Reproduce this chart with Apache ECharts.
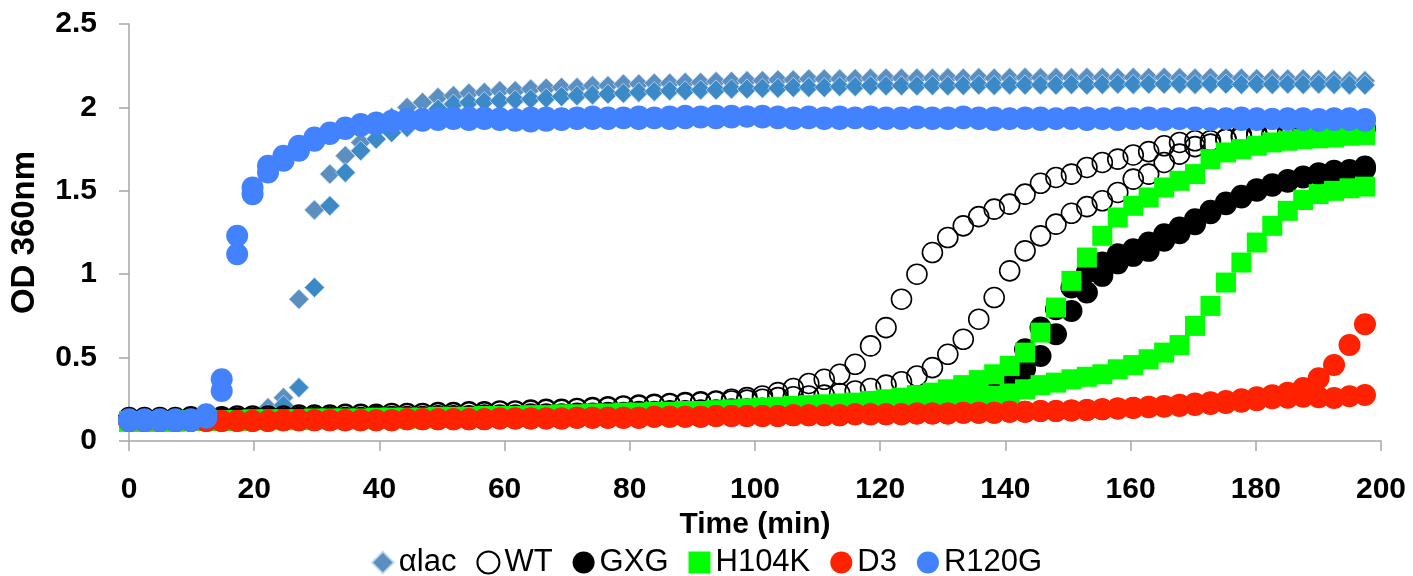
<!DOCTYPE html>
<html>
<head>
<meta charset="utf-8">
<script src="https://cdn.jsdelivr.net/npm/echarts@6/dist/echarts.min.js"></script>
<style>
  html, body { margin: 0; padding: 0; background: #fff; }
  #chart { width: 1413px; height: 576px; }
</style>
</head>
<body>
<div id="chart"></div>
<script>
// sampling times (min)
const time = [
  0, 2.47, 4.94, 7.40, 9.87, 12.34, 14.81, 17.28, 19.74, 22.21,
  24.68, 27.15, 29.62, 32.08, 34.55, 37.02, 39.49, 41.96, 44.42, 46.89,
  49.36, 51.83, 54.30, 56.76, 59.23, 61.70, 64.17, 66.64, 69.10, 71.57,
  74.04, 76.51, 78.98, 81.44, 83.91, 86.38, 88.85, 91.32, 93.78, 96.25,
  98.72, 101.19, 103.66, 106.12, 108.59, 111.06, 113.53, 116.00, 118.46, 120.93,
  123.40, 125.87, 128.34, 130.80, 133.27, 135.74, 138.21, 140.68, 143.14, 145.61,
  148.08, 150.55, 153.02, 155.48, 157.95, 160.42, 162.89, 165.36, 167.82, 170.29,
  172.76, 175.23, 177.70, 180.16, 182.63, 185.10, 187.57, 190.04, 192.50, 194.97,
  197.44
];

const alacA = [
  0.13,0.13,0.13,0.13,0.13,0.13,0.135,0.14,0.15,0.20,
  0.26,0.85,1.385,1.60,1.71,1.79,1.86,1.94,2.00,2.03,
  2.06,2.07,2.085,2.09,2.10,2.10,2.11,2.115,2.12,2.12,
  2.13,2.13,2.14,2.14,2.145,2.145,2.15,2.15,2.155,2.155,
  2.16,2.16,2.165,2.165,2.17,2.17,2.17,2.172,2.175,2.175,
  2.175,2.175,2.175,2.178,2.175,2.178,2.175,2.178,2.18,2.178,
  2.18,2.178,2.18,2.18,2.178,2.18,2.178,2.18,2.178,2.175,
  2.178,2.175,2.175,2.172,2.172,2.17,2.17,2.168,2.165,2.16,
  2.16
];
const alacB = [
  0.125,0.125,0.125,0.125,0.125,0.125,0.13,0.135,0.14,0.16,
  0.215,0.32,0.92,1.41,1.61,1.74,1.81,1.85,1.88,1.94,
  1.99,2.02,2.03,2.035,2.04,2.045,2.05,2.055,2.065,2.07,
  2.075,2.08,2.085,2.09,2.095,2.10,2.10,2.105,2.105,2.11,
  2.11,2.115,2.115,2.12,2.12,2.12,2.125,2.125,2.13,2.13,
  2.13,2.13,2.132,2.13,2.132,2.135,2.132,2.135,2.135,2.135,
  2.135,2.138,2.135,2.138,2.14,2.138,2.14,2.14,2.14,2.138,
  2.14,2.14,2.138,2.14,2.138,2.14,2.138,2.14,2.138,2.135,
  2.135
];

const wtA = [
  0.14,0.14,0.14,0.14,0.145,0.145,0.145,0.15,0.15,0.15,
  0.15,0.155,0.155,0.155,0.16,0.16,0.16,0.165,0.165,0.165,
  0.17,0.17,0.175,0.175,0.18,0.18,0.185,0.19,0.19,0.195,
  0.20,0.205,0.21,0.215,0.22,0.225,0.23,0.235,0.24,0.25,
  0.26,0.27,0.29,0.315,0.345,0.37,0.40,0.46,0.57,0.68,
  0.85,1.00,1.13,1.22,1.29,1.345,1.39,1.42,1.48,1.545,
  1.58,1.60,1.64,1.67,1.69,1.715,1.735,1.77,1.79,1.80,
  1.80,1.81,1.82,1.83,1.835,1.84,1.85,1.855,1.86,1.865,
  1.87
];
const wtB = [
  0.135,0.135,0.135,0.135,0.14,0.14,0.14,0.145,0.145,0.145,
  0.145,0.15,0.15,0.15,0.155,0.155,0.155,0.16,0.16,0.16,
  0.165,0.165,0.17,0.17,0.175,0.175,0.18,0.185,0.185,0.19,
  0.195,0.20,0.205,0.21,0.215,0.22,0.225,0.23,0.235,0.24,
  0.245,0.25,0.26,0.265,0.27,0.275,0.285,0.30,0.315,0.335,
  0.355,0.39,0.44,0.52,0.61,0.73,0.86,1.02,1.14,1.23,
  1.30,1.365,1.405,1.44,1.49,1.57,1.60,1.67,1.72,1.765,
  1.78,1.81,1.835,1.845,1.85,1.855,1.86,1.865,1.87,1.875,
  1.88
];

const gxgA = [
  0.13,0.13,0.13,0.13,0.13,0.13,0.135,0.135,0.135,0.135,
  0.135,0.14,0.14,0.14,0.14,0.14,0.145,0.145,0.145,0.145,
  0.15,0.15,0.15,0.155,0.155,0.155,0.16,0.16,0.16,0.165,
  0.165,0.17,0.17,0.175,0.175,0.18,0.18,0.185,0.185,0.19,
  0.19,0.195,0.195,0.20,0.20,0.205,0.205,0.21,0.21,0.215,
  0.215,0.22,0.225,0.23,0.24,0.255,0.29,0.37,0.55,0.68,
  0.79,0.92,1.01,1.07,1.12,1.15,1.19,1.24,1.28,1.33,
  1.38,1.43,1.47,1.51,1.54,1.565,1.585,1.605,1.62,1.625,
  1.645
];
const gxgB = [
  0.125,0.125,0.125,0.125,0.125,0.125,0.13,0.13,0.13,0.13,
  0.13,0.135,0.135,0.135,0.135,0.135,0.14,0.14,0.14,0.14,
  0.145,0.145,0.145,0.15,0.15,0.15,0.155,0.155,0.155,0.16,
  0.16,0.165,0.165,0.17,0.17,0.175,0.175,0.18,0.18,0.185,
  0.185,0.19,0.19,0.195,0.195,0.20,0.20,0.205,0.205,0.21,
  0.21,0.215,0.22,0.225,0.235,0.25,0.27,0.33,0.43,0.51,
  0.64,0.78,0.89,0.99,1.065,1.11,1.14,1.20,1.245,1.30,
  1.365,1.42,1.46,1.50,1.53,1.555,1.58,1.60,1.605,1.615,
  1.63
];

const h104kA = [
  0.12,0.12,0.12,0.12,0.125,0.125,0.125,0.125,0.13,0.13,
  0.13,0.13,0.135,0.135,0.135,0.135,0.14,0.14,0.14,0.14,
  0.145,0.145,0.145,0.15,0.15,0.15,0.155,0.155,0.16,0.16,
  0.165,0.165,0.17,0.17,0.175,0.175,0.18,0.18,0.185,0.19,
  0.195,0.20,0.205,0.21,0.215,0.22,0.225,0.23,0.24,0.25,
  0.26,0.275,0.29,0.31,0.335,0.365,0.40,0.45,0.53,0.65,
  0.80,0.96,1.10,1.23,1.34,1.41,1.46,1.52,1.56,1.60,
  1.69,1.73,1.75,1.77,1.79,1.80,1.81,1.815,1.82,1.83,
  1.835
];
const h104kB = [
  0.115,0.115,0.115,0.115,0.12,0.12,0.12,0.12,0.125,0.125,
  0.125,0.125,0.13,0.13,0.13,0.13,0.135,0.135,0.135,0.135,
  0.14,0.14,0.14,0.145,0.145,0.145,0.15,0.15,0.155,0.155,
  0.16,0.16,0.165,0.165,0.17,0.17,0.175,0.175,0.18,0.185,
  0.19,0.195,0.20,0.205,0.21,0.215,0.22,0.225,0.23,0.235,
  0.24,0.245,0.25,0.255,0.26,0.265,0.27,0.285,0.31,0.335,
  0.35,0.37,0.385,0.40,0.43,0.455,0.49,0.53,0.575,0.69,
  0.81,0.95,1.07,1.19,1.29,1.38,1.445,1.48,1.50,1.515,
  1.525
];

const d3A = [
  0.12,0.12,0.12,0.12,0.12,0.12,0.12,0.12,0.12,0.12,
  0.125,0.125,0.125,0.125,0.125,0.125,0.125,0.125,0.13,0.13,
  0.13,0.13,0.13,0.13,0.135,0.135,0.135,0.135,0.135,0.14,
  0.14,0.14,0.14,0.14,0.145,0.145,0.145,0.145,0.15,0.15,
  0.15,0.15,0.15,0.155,0.155,0.155,0.155,0.16,0.16,0.16,
  0.16,0.165,0.165,0.165,0.17,0.17,0.17,0.175,0.175,0.18,
  0.18,0.183,0.186,0.19,0.195,0.2,0.205,0.21,0.218,0.225,
  0.232,0.24,0.25,0.262,0.275,0.29,0.318,0.376,0.456,0.576,
  0.70
];
const d3B = [
  0.12,0.12,0.12,0.12,0.12,0.12,0.12,0.12,0.12,0.12,
  0.125,0.125,0.125,0.125,0.125,0.125,0.125,0.125,0.13,0.13,
  0.13,0.13,0.13,0.13,0.135,0.135,0.135,0.135,0.135,0.14,
  0.14,0.14,0.14,0.14,0.145,0.145,0.145,0.145,0.15,0.15,
  0.15,0.15,0.15,0.155,0.155,0.155,0.155,0.16,0.16,0.16,
  0.16,0.165,0.165,0.165,0.17,0.17,0.17,0.175,0.175,0.18,
  0.18,0.183,0.186,0.19,0.195,0.198,0.202,0.206,0.21,0.216,
  0.222,0.228,0.236,0.245,0.256,0.26,0.266,0.262,0.258,0.268,
  0.276
];

const r120gA = [
  0.13,0.13,0.13,0.13,0.13,0.16,0.37,1.23,1.52,1.65,
  1.71,1.77,1.82,1.85,1.88,1.90,1.91,1.92,1.93,1.93,
  1.935,1.94,1.94,1.94,1.935,1.93,1.94,1.94,1.935,1.94,
  1.945,1.94,1.94,1.945,1.94,1.945,1.95,1.945,1.95,1.95,
  1.945,1.95,1.945,1.94,1.945,1.94,1.945,1.94,1.945,1.94,
  1.94,1.945,1.94,1.94,1.945,1.94,1.94,1.935,1.94,1.94,
  1.935,1.94,1.94,1.935,1.94,1.935,1.94,1.935,1.935,1.94,
  1.935,1.935,1.94,1.935,1.93,1.935,1.935,1.93,1.935,1.935,
  1.93
];
const r120gB = [
  0.12,0.12,0.12,0.12,0.12,0.14,0.30,1.12,1.48,1.61,
  1.68,1.74,1.80,1.84,1.87,1.89,1.90,1.91,1.92,1.92,
  1.925,1.93,1.925,1.93,1.925,1.92,1.915,1.92,1.925,1.93,
  1.93,1.93,1.935,1.93,1.935,1.93,1.935,1.94,1.935,1.94,
  1.945,1.94,1.935,1.93,1.935,1.93,1.93,1.935,1.93,1.93,
  1.93,1.935,1.93,1.93,1.935,1.93,1.925,1.93,1.93,1.925,
  1.93,1.93,1.925,1.93,1.925,1.93,1.93,1.925,1.93,1.925,
  1.925,1.93,1.925,1.925,1.93,1.925,1.925,1.92,1.925,1.925,
  1.92
];

const legendNames = ['αlac', 'WT', 'GXG', 'H104K', 'D3', 'R120G'];
const xTicks = { min: 0, max: 200, step: 20 };
const yTicks = { min: 0, max: 2.5, step: 0.5 };

function pts (values) {
  return time.map((t, i) => [t, values[i]]);
}

function scatter (name, values, symbol, size, itemStyle) {
  itemStyle.opacity = 1;
  return {
    name: name,
    type: 'scatter',
    data: pts(values),
    symbol: symbol,
    symbolSize: size,
    itemStyle: itemStyle,
    emphasis: { disabled: true }
  };
}

const fontFam = '"Liberation Sans", Arial, sans-serif';
const axisGray = '#a6a6a6';

const chart = echarts.init(document.getElementById('chart'));
const option = {
  animation: false,
  backgroundColor: '#ffffff',
  grid: { left: 128, right: 32, top: 24, bottom: 135 },
  legend: {
    data: legendNames,
    top: 542,
    left: 'center',
    itemWidth: 22,
    itemHeight: 22,
    itemGap: 20,
    textStyle: { fontSize: 31, color: '#000', fontFamily: fontFam }
  },
  xAxis: {
    type: 'value',
    min: xTicks.min,
    max: xTicks.max,
    interval: xTicks.step,
    name: 'Time (min)',
    nameLocation: 'middle',
    nameGap: 66,
    nameTextStyle: { fontSize: 30, fontWeight: 'bold', color: '#000', fontFamily: fontFam },
    axisLine: { lineStyle: { color: axisGray, width: 1.5 } },
    axisTick: { show: true, length: 10, lineStyle: { color: axisGray, width: 1.5 } },
    axisLabel: { fontSize: 30, fontWeight: 'bold', color: '#000', margin: 34, fontFamily: fontFam },
    splitLine: { show: false }
  },
  yAxis: {
    type: 'value',
    min: yTicks.min,
    max: yTicks.max,
    interval: yTicks.step,
    name: 'OD 360nm',
    nameLocation: 'middle',
    nameGap: 88,
    nameTextStyle: { fontSize: 33, fontWeight: 'bold', color: '#000', fontFamily: fontFam },
    axisLine: { show: true, lineStyle: { color: axisGray, width: 1.5 } },
    axisTick: { show: true, length: 10, lineStyle: { color: axisGray, width: 1.5 } },
    axisLabel: { fontSize: 30, fontWeight: 'bold', color: '#000', margin: 32, fontFamily: fontFam },
    splitLine: { show: false }
  },
  series: [
    scatter('αlac', alacA, 'diamond', 20, { color: '#5b8ec1', borderColor: 'rgba(200,220,240,0.8)', borderWidth: 1 }),
    scatter('αlac', alacB, 'diamond', 20, { color: '#3b89c6', borderColor: 'rgba(200,220,240,0.8)', borderWidth: 1 }),
    scatter('WT', wtA, 'circle', 20, { color: 'rgba(255,255,255,0)', borderColor: '#000', borderWidth: 1.6 }),
    scatter('WT', wtB, 'circle', 20, { color: 'rgba(255,255,255,0)', borderColor: '#000', borderWidth: 1.6 }),
    scatter('GXG', gxgA, 'circle', 22, { color: '#000000' }),
    scatter('GXG', gxgB, 'circle', 22, { color: '#000000' }),
    scatter('H104K', h104kA, 'rect', 20, { color: '#00ff00' }),
    scatter('H104K', h104kB, 'rect', 20, { color: '#00ff00' }),
    scatter('D3', d3A, 'circle', 22, { color: '#ff2200' }),
    scatter('D3', d3B, 'circle', 22, { color: '#ff2200' }),
    scatter('R120G', r120gA, 'circle', 22, { color: '#4282ff' }),
    scatter('R120G', r120gB, 'circle', 22, { color: '#4282ff' })
  ]
};
chart.setOption(option);
</script>
</body>
</html>
